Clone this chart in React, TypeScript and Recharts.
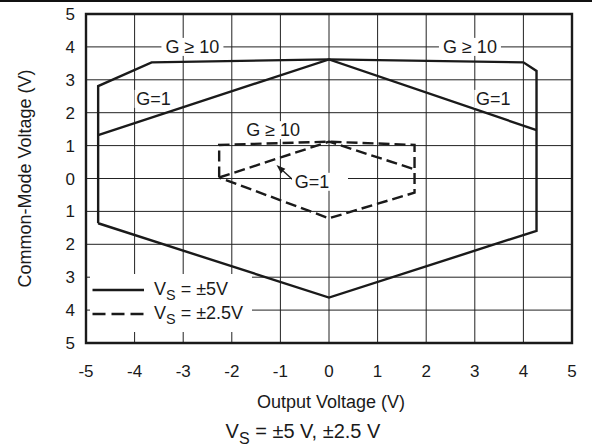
import React from 'react';
import {
  ComposedChart,
  Line,
  XAxis,
  YAxis,
  CartesianGrid,
  ReferenceArea,
  ReferenceDot,
  ReferenceLine,
  Legend,
} from 'recharts';

// ---- Data ----
const xTicks = [-5, -4, -3, -2, -1, 0, 1, 2, 3, 4, 5];
const xTickLabels = ['-5', '-4', '-3', '-2', '-1', '0', '1', '2', '3', '4', '5'];
const yTicks = [-5, -4, -3, -2, -1, 0, 1, 2, 3, 4, 5];
const yTickLabels = ['5', '4', '3', '2', '1', '0', '1', '2', '3', '4', '5'];

// Vs = ±5V, G >= 10 outline
const outer5X = [-4.75, -4.75, -3.65, 0, 4.0, 4.27, 4.27, 0, -4.75];
const outer5Y = [-1.36, 2.81, 3.53, 3.62, 3.53, 3.27, -1.59, -3.62, -1.36];
// Vs = ±5V, G = 1 upper edge
const g1_5X = [-4.75, 0, 4.27];
const g1_5Y = [1.32, 3.62, 1.47];
// Vs = ±2.5V, G >= 10 outline
const outer25X = [-2.26, -2.26, 0, 1.76, 1.76, 0, -2.26];
const outer25Y = [0.03, 1.02, 1.12, 1.02, -0.43, -1.21, 0.03];
// Vs = ±2.5V, G = 1 upper edge
const g1_25X = [-2.26, 0, 1.76];
const g1_25Y = [0.03, 1.12, 0.28];

const legendNames = ['±5V', '±2.5V'];

const annoTexts = ['G ≥ 10', 'G ≥ 10', 'G=1', 'G=1', 'G ≥ 10', 'G=1'];
const annoX = [-2.81, 2.9, -3.61, 3.38, -1.15, -0.35];
const annoY = [4.0, 4.0, 2.42, 2.42, 1.47, -0.1];

const arrowTail = { x: -0.7, y: -0.1 };
const arrowTip = { x: -1.08, y: 0.41 };

const zip = (xs: number[], ys: number[]) => xs.map((x, i) => ({ x, y: ys[i] }));
const outer5 = zip(outer5X, outer5Y);
const g1_5 = zip(g1_5X, g1_5Y);
const outer25 = zip(outer25X, outer25Y);
const g1_25 = zip(g1_25X, g1_25Y);

// ---- Styles ----
const FONT = '"Liberation Sans", Arial, sans-serif';
const INK = '#1a1a1a';
const DASH = '11 5';

// annotation box extents (px, relative to text center)
const annoBoxes: [number, number][] = [
  [-31, 31],
  [-31, 31],
  [-19, 19],
  [-19, 19],
  [-30, 30],
  [-20, 36],
];

const makeAnno = (i: number) => (props: any) => {
  const vb = props.viewBox || {};
  const cx = (vb.x ?? 0) + (vb.width ?? 0) / 2;
  const cy = (vb.y ?? 0) + (vb.height ?? 0) / 2;
  const [l, r] = annoBoxes[i];
  return (
    <g>
      <rect x={cx + l} y={cy - 9} width={r - l} height={18} fill="#fff" />
      <text
        x={cx}
        y={cy}
        textAnchor="middle"
        dominantBaseline="central"
        fontSize={18}
        fontFamily={FONT}
        fill={INK}
      >
        {annoTexts[i]}
      </text>
    </g>
  );
};

const ArrowShape = (props: any) => {
  const { x1, y1, x2, y2 } = props;
  if ([x1, y1, x2, y2].some((v) => typeof v !== 'number' || isNaN(v))) return null;
  const ang = Math.atan2(y2 - y1, x2 - x1);
  const len = 9;
  const half = 3.2;
  const bx = x2 - len * Math.cos(ang);
  const by = y2 - len * Math.sin(ang);
  const px = -Math.sin(ang) * half;
  const py = Math.cos(ang) * half;
  return (
    <g>
      <line x1={x1} y1={y1} x2={bx} y2={by} stroke={INK} strokeWidth={1.3} />
      <polygon
        points={`${x2},${y2} ${bx + px},${by + py} ${bx - px},${by - py}`}
        fill={INK}
      />
    </g>
  );
};

const renderLegend = () => (
  <div
    style={{
      position: 'relative',
      width: 162,
      height: 58,
      background: '#fff',
      fontFamily: FONT,
      fontSize: 18,
      color: INK,
    }}
  >
    {legendNames.map((name, i) => (
      <div key={name} style={{ position: 'absolute', left: 0, top: i === 0 ? 4 : 27.5, height: 24, width: 162 }}>
        <svg width={60} height={24} style={{ position: 'absolute', left: 0, top: 0 }}>
          <line
            x1={2.5}
            x2={54}
            y1={12}
            y2={12}
            stroke={INK}
            strokeWidth={2.4}
            strokeDasharray={i === 0 ? undefined : '13 6'}
          />
        </svg>
        <span style={{ position: 'absolute', left: 64, top: 2, lineHeight: '18px', whiteSpace: 'nowrap' }}>
          V
          <span style={{ fontSize: '0.8em', position: 'relative', top: '0.35em' }}>S</span>
          {' = '}
          {name}
        </span>
      </div>
    ))}
  </div>
);

export default function App() {
  return (
    <div style={{ position: 'absolute', left: 0, top: 0, width: 592, height: 447, background: '#fff' }}>
      <div style={{ position: 'absolute', left: 0, top: 0, width: 592, height: 1.5, background: '#111' }} />
      <ComposedChart
        width={592}
        height={447}
        margin={{ top: 14, right: 20, bottom: 0, left: 0 }}
        style={{ fontFamily: FONT }}
      >
        <CartesianGrid stroke="#222" strokeWidth={1} />
        <XAxis
          type="number"
          dataKey="x"
          domain={[-5, 5]}
          ticks={xTicks}
          interval={0}
          allowDataOverflow
          height={104}
          tickLine={false}
          axisLine={false}
          tickSize={0}
          tickMargin={22}
          tick={{ fontSize: 17, fill: INK, fontFamily: FONT }}
          tickFormatter={(v: number) => xTickLabels[xTicks.indexOf(v)] ?? String(v)}
          label={(props: any) => {
            const vb = props.viewBox || {};
            const x = (vb.x ?? 0) + (vb.width ?? 0) / 2 + 2;
            const y = (vb.y ?? 0) + 59;
            return (
              <text x={x} y={y} textAnchor="middle" dominantBaseline="central" fontSize={18} fontFamily={FONT} fill={INK}>
                Output Voltage (V)
              </text>
            );
          }}
        />
        <YAxis
          type="number"
          dataKey="y"
          domain={[-5, 5]}
          ticks={yTicks}
          interval={0}
          allowDataOverflow
          width={86}
          tickLine={false}
          axisLine={false}
          tickSize={0}
          tickMargin={11}
          tick={{ fontSize: 17, fill: INK, fontFamily: FONT }}
          tickFormatter={(v: number) => yTickLabels[yTicks.indexOf(v)] ?? String(v)}
          label={(props: any) => {
            const vb = props.viewBox || {};
            const x = (vb.x ?? 0) + 25;
            const y = (vb.y ?? 0) + (vb.height ?? 0) / 2;
            return (
              <text
                x={x}
                y={y}
                transform={`rotate(-90 ${x} ${y})`}
                textAnchor="middle"
                dominantBaseline="central"
                fontSize={18}
                fontFamily={FONT}
                fill={INK}
              >
                Common-Mode Voltage (V)
              </text>
            );
          }}
        />
        <ReferenceArea x1={-5} x2={5} y1={-5} y2={5} fill="none" stroke={INK} strokeWidth={2.4} ifOverflow="visible" />
        <Line data={outer5} dataKey="y" type="linear" stroke={INK} strokeWidth={2.4} dot={false} activeDot={false} isAnimationActive={false} legendType="none" />
        <Line data={g1_5} dataKey="y" type="linear" stroke={INK} strokeWidth={2.4} dot={false} activeDot={false} isAnimationActive={false} legendType="none" />
        <Line data={outer25} dataKey="y" type="linear" stroke={INK} strokeWidth={2.4} strokeDasharray={DASH} dot={false} activeDot={false} isAnimationActive={false} legendType="none" />
        <Line data={g1_25} dataKey="y" type="linear" stroke={INK} strokeWidth={2.4} strokeDasharray={DASH} dot={false} activeDot={false} isAnimationActive={false} legendType="none" />
        {annoTexts.map((t, i) => (
          <ReferenceDot key={i} x={annoX[i]} y={annoY[i]} r={0} fill="none" stroke="none" label={makeAnno(i)} />
        ))}
        <ReferenceLine segment={[arrowTail, arrowTip]} shape={ArrowShape} />
        <Legend
          layout="vertical"
          align="center"
          verticalAlign="middle"
          width={162}
          height={58}
          content={renderLegend}
          wrapperStyle={{ left: 90, top: 274, width: 162, height: 58 }}
        />
      </ComposedChart>
      <div
        style={{
          position: 'absolute',
          left: 303,
          top: 421,
          transform: 'translateX(-50%)',
          fontFamily: FONT,
          fontSize: 20,
          lineHeight: '20px',
          color: INK,
          whiteSpace: 'nowrap',
        }}
      >
        V<span style={{ fontSize: '0.8em', position: 'relative', top: '0.35em' }}>S</span> = ±5 V, ±2.5 V
      </div>
    </div>
  );
}
